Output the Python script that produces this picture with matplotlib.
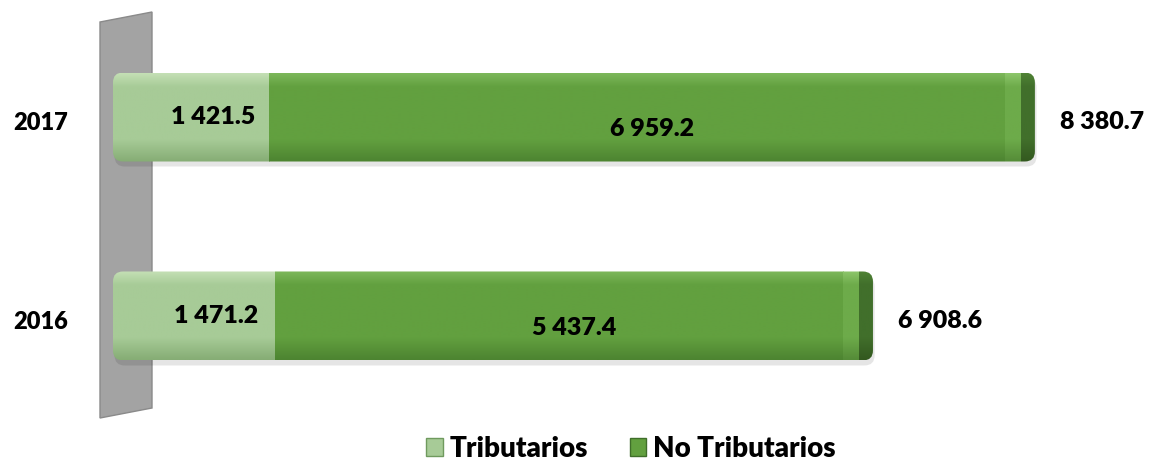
import numpy as np
import matplotlib
matplotlib.use("Agg")
import matplotlib.pyplot as plt
from matplotlib.patches import FancyBboxPatch, Polygon, Patch
from matplotlib.colors import to_rgb

# ---- data ----
years = ["2016", "2017"]
tributarios = [1471.2, 1421.5]
no_tributarios = [5437.4, 6959.2]
series_names = ["Tributarios", "No Tributarios"]

plt.rcParams['font.family'] = ['Lato', 'DejaVu Sans']
WEIGHT = "heavy"

W, H = 1149, 469
fig = plt.figure(figsize=(W / 100, H / 100), dpi=100)
fig.patch.set_facecolor("white")

X0PX = 113
XMAX = 9418
ax = fig.add_axes([X0PX / W, 0, 1 - X0PX / W, 1])
ax.set_xlim(0, XMAX)
ax.set_ylim(-0.769, 1.588)
ax.axis("off")
ax.patch.set_visible(False)

# gray wall (decoration, figure coords)
wall = Polygon([[100 / W, 1 - 22 / H], [152 / W, 1 - 12 / H],
                [152 / W, 1 - 408 / H], [100 / W, 1 - 418 / H]],
               closed=True, transform=fig.transFigure,
               facecolor="#a3a3a3", edgecolor="#8a8a8a", lw=1, zorder=-5)
fig.patches.append(wall)

px_x = (W - X0PX) / XMAX       # pixels per data unit (x)
px_y = H / (1.588 + 0.769)     # pixels per data unit (y)
bar_h = 89 / px_y
r_px = 10
r_x = r_px / px_x
aspect = (r_px / px_y) / r_x
cap_w = 14 / px_x
hl_w = 16 / px_x


def grad(c_top, c_mid, c_bot, n=64):
    t = np.linspace(0, 1, n)
    top = np.array(to_rgb(c_top)); mid = np.array(to_rgb(c_mid)); bot = np.array(to_rgb(c_bot))
    arr = np.zeros((n, 1, 3))
    for i, v in enumerate(t):
        if v < 0.15:
            arr[i, 0] = top + (mid - top) * (v / 0.15)
        elif v < 0.75:
            arr[i, 0] = mid
        else:
            arr[i, 0] = mid + (bot - mid) * ((v - 0.75) / 0.25)
    return arr  # row 0 = top


light = ("#c3dfb4", "#a7cb97", "#86ad75")
dark = ("#7cb75a", "#62a03f", "#4d8431")
hl = ("#8cc56a", "#6dab4a", "#558c38")
capc = ("#4f8235", "#416f2b", "#33591f")

bars1 = ax.barh([0, 1], tributarios, height=bar_h, color="none")
bars2 = ax.barh([0, 1], no_tributarios, left=tributarios, height=bar_h, color="none")

for i in range(2):
    y = i
    total = tributarios[i] + no_tributarios[i]
    y0 = y - bar_h / 2
    # shadow
    sh = FancyBboxPatch((15, y0 - 5 / px_y), total, bar_h,
                        boxstyle=f"round,pad=0,rounding_size={r_x}",
                        mutation_aspect=aspect, facecolor="#000000", alpha=0.10,
                        edgecolor="none", zorder=1)
    ax.add_patch(sh)
    clip = FancyBboxPatch((0, y0), total, bar_h,
                          boxstyle=f"round,pad=0,rounding_size={r_x}",
                          mutation_aspect=aspect, facecolor="none",
                          edgecolor="none", zorder=2)
    ax.add_patch(clip)
    b1 = bars1[i]
    b2 = bars2[i]
    end = b2.get_x() + b2.get_width()
    segs = [
        (b1.get_x(), b1.get_x() + b1.get_width(), light),
        (b2.get_x(), end - cap_w - hl_w, dark),
        (end - cap_w - hl_w, end - cap_w, hl),
        (end - cap_w, end, capc),
    ]
    for xa, xb, cols in segs:
        im = ax.imshow(grad(*cols), extent=[xa, xb, y0, y0 + bar_h],
                       aspect="auto", origin="upper", zorder=3, interpolation="bilinear")
        im.set_clip_path(clip)

    # labels
    ax.annotate(f"{tributarios[i]:,.1f}".replace(",", " "),
                (b1.get_x() + b1.get_width() / 2, y), xytext=(22, 0),
                textcoords="offset pixels", ha="center", va="center",
                fontsize=18, fontweight=WEIGHT, color="black", zorder=5)
    ax.annotate(f"{no_tributarios[i]:,.1f}".replace(",", " "),
                (b2.get_x() + b2.get_width() / 2, y), xytext=(0, -12),
                textcoords="offset pixels", ha="center", va="center",
                fontsize=18, fontweight=WEIGHT, color="black", zorder=5)
    ax.annotate(f"{total:,.1f}".replace(",", " "),
                (total, y), xytext=(25, -5),
                textcoords="offset pixels", ha="left", va="center",
                fontsize=18, fontweight=WEIGHT, color="black", zorder=5)
    ax.annotate(years[i], (0, y), xytext=(-72, -6),
                textcoords="offset pixels", ha="center", va="center",
                fontsize=17, fontweight=WEIGHT, color="black", zorder=5,
                annotation_clip=False)

ax.set_xlim(0, XMAX)
ax.set_ylim(-0.769, 1.588)

handles = [Patch(facecolor="#a7cb97", edgecolor="#6f9a5e", label=series_names[0]),
           Patch(facecolor="#62a03f", edgecolor="#3f6e2a", label=series_names[1])]
leg = fig.legend(handles=handles, loc="center", bbox_to_anchor=(631 / W, 1 - 449 / H),
                 ncol=2, frameon=False, prop={"size": 20, "weight": WEIGHT},
                 handlelength=0.6, handleheight=0.6, handletextpad=0.25, columnspacing=1.5)

fig.savefig("out.png", dpi=100, facecolor="white")
